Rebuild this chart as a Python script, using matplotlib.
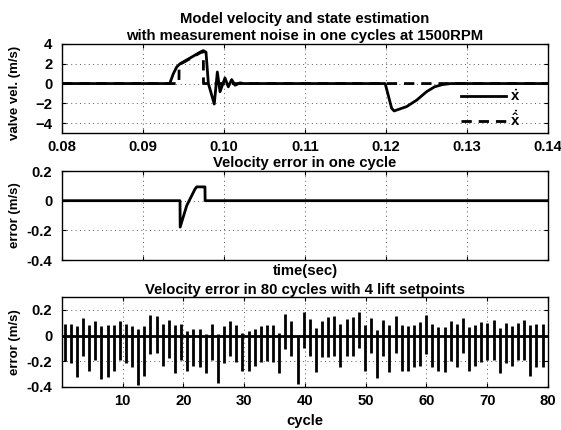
import numpy as np
import matplotlib
matplotlib.use("Agg")
import matplotlib.pyplot as plt

# ---------------- data ----------------
# Top panel: true valve velocity (solid)
t_true = [0.08, 0.0933, 0.09375, 0.09416, 0.09457, 0.0960, 0.09704, 0.09745, 0.09778,
          0.09807, 0.0988, 0.09918, 0.09951, 0.10012, 0.10053, 0.10095, 0.10136,
          0.10198, 0.1024, 0.1030, 0.1199, 0.1207, 0.1210, 0.12255, 0.1238, 0.1250,
          0.1260, 0.1270, 0.1280, 0.14]
v_true = [0.0, 0.0, 1.0, 1.67, 2.0, 2.67, 3.17, 3.33, 3.17,
          0.0, -2.07, 1.17, -0.83, 0.57, -0.33, 0.4, -0.17,
          0.07, 0.0, 0.0, 0.0, -2.5, -2.77, -2.33, -1.67, -0.83,
          -0.33, -0.1, 0.0, 0.0]
# Top panel: estimated velocity (dashed)
t_est = [0.08, 0.09444, 0.09446, 0.0960, 0.09704, 0.09745, 0.09747, 0.14]
v_est = [0.0, 0.0, 1.9, 2.6, 3.1, 3.25, 0.0, 0.0]

# Middle panel: velocity error in one cycle
t_err = [0.08, 0.09457, 0.09459, 0.0954, 0.09642, 0.09663, 0.09745, 0.09765, 0.09767, 0.14]
v_err = [0.0, 0.0, -0.178, -0.033, 0.078, 0.093, 0.093, 0.093, 0.0, 0.0]

# Bottom panel: per-cycle error extremes (79 cycles visible)
cycles = np.arange(1, 80)
err_max = [0.093, 0.093, 0.075, 0.133, 0.08, 0.112, 0.072, 0.08, 0.08, 0.117,
           0.091, 0.072, 0.048, 0.075, 0.16, 0.155, 0.088, 0.12, 0.08, 0.093,
           0.032, 0.053, 0.053, 0.013, 0.093, 0.01, 0.072, 0.112, 0.08, 0.02,
           0.032, 0.053, 0.072, 0.085, 0.08, 0.019, 0.165, 0.112, 0.005, 0.184,
           0.128, 0.061, 0.115, 0.147, 0.155, 0.088, 0.128, 0.141, 0.181, 0.08,
           0.133, 0.04, 0.12, 0.08, 0.155, 0.08, 0.072, 0.08, 0.107, 0.157,
           0.088, 0.067, 0.067, 0.115, 0.093, 0.139, 0.067, 0.085, 0.107, 0.099,
           0.12, 0.061, 0.099, 0.075, 0.099, 0.12, 0.08, 0.088, 0.088]
err_min = [-0.195, -0.213, -0.325, -0.16, -0.272, -0.192, -0.339, -0.325, -0.272, -0.187,
           -0.213, -0.245, -0.385, -0.315, -0.147, -0.139, -0.24, -0.173, -0.288, -0.187,
           -0.272, -0.24, -0.245, -0.293, -0.187, -0.365, -0.213, -0.155, -0.208, -0.272,
           -0.272, -0.24, -0.208, -0.2, -0.208, -0.288, -0.107, -0.155, -0.38, -0.098,
           -0.16, -0.28, -0.168, -0.165, -0.155, -0.245, -0.155, -0.155, -0.099, -0.272,
           -0.139, -0.333, -0.16, -0.28, -0.139, -0.272, -0.272, -0.245, -0.24, -0.142,
           -0.245, -0.272, -0.28, -0.2, -0.245, -0.139, -0.272, -0.24, -0.208, -0.192,
           -0.187, -0.288, -0.213, -0.24, -0.187, -0.187, -0.315, -0.245, -0.245]

top_xticks = [0.08, 0.09, 0.10, 0.11, 0.12, 0.13, 0.14]
top_xticklabels = ["0.08", "0.09", "0.10", "0.11", "0.12", "0.13", "0.14"]
top_yticks = [-4, -2, 0, 2, 4]
mid_yticks = [-0.4, -0.2, 0, 0.2]
mid_yticklabels = ["-0.4", "-0.2", "0", "0.2"]
bot_xticks = [10, 20, 30, 40, 50, 60, 70, 80]
bot_yticks = [-0.4, -0.2, 0, 0.2]

# ---------------- style ----------------
plt.rcParams['font.family'] = ['Liberation Sans', 'DejaVu Sans']
plt.rcParams['font.weight'] = 'bold'
plt.rcParams['mathtext.fontset'] = 'custom'
plt.rcParams['mathtext.rm'] = 'Liberation Sans:bold'
plt.rcParams['mathtext.bf'] = 'Liberation Sans:bold'
plt.rcParams['mathtext.it'] = 'Liberation Sans:bold'

FS = 10.7
LW = 2.0
grid_kw = dict(color='0.35', linestyle=(0, (1, 3.5)), linewidth=0.7)

fig = plt.figure(figsize=(5.61, 4.30), dpi=100)
L, W = 0.1105, 0.8663
ax1 = fig.add_axes([L, 0.6907, W, 0.207])
ax2 = fig.add_axes([L, 0.3953, W, 0.207])
ax3 = fig.add_axes([L, 0.1000, W, 0.2093])

def style(ax):
    ax.tick_params(direction='in', top=True, right=True, length=3, width=0.8,
                   labelsize=FS)
    ax.tick_params(axis='y', pad=7)
    ax.tick_params(axis='x', pad=5)
    for s in ax.spines.values():
        s.set_linewidth(1.0)
    ax.grid(True, **grid_kw)
    ax.set_axisbelow(True)

# Top panel
ax1.plot(t_true, v_true, color='black', lw=LW, label=r'$\dot{\mathbf{x}}$')
ax1.plot(t_est, v_est, color='black', lw=LW, dashes=(3.7, 2.5),
         label=r'$\dot{\hat{\mathbf{x}}}$')
ax1.set_xlim(0.08, 0.14)
ax1.set_ylim(-5, 4)
ax1.set_xticks(top_xticks)
ax1.set_xticklabels(top_xticklabels)
ax1.set_yticks(top_yticks)
style(ax1)
ax1.set_title("Model velocity and state estimation\nwith measurement noise in one cycles at 1500RPM",
              fontsize=FS, fontweight='bold', pad=3, linespacing=1.25)
ax1.set_ylabel("valve vel. (m/s)", fontsize=9.5, fontweight='bold')
ax1.yaxis.set_label_coords(-0.085, 0.45)
leg = ax1.legend(loc='center left', bbox_to_anchor=(0.821, 0.27), frameon=False,
                 handlelength=3.0, handletextpad=0.3, labelspacing=0.35,
                 borderpad=0, borderaxespad=0, fontsize=FS)

# Middle panel
ax2.plot(t_err, v_err, color='black', lw=LW)
ax2.set_xlim(0.08, 0.14)
ax2.set_ylim(-0.4, 0.2)
ax2.set_xticks(top_xticks)
ax2.set_yticks(mid_yticks)
ax2.set_yticklabels(mid_yticklabels)
style(ax2)
ax2.tick_params(labelbottom=False)
ax2.set_title("Velocity error in one cycle", fontsize=FS, fontweight='bold', pad=3)
ax2.set_xlabel("time(sec)", fontsize=FS, fontweight='bold', labelpad=3)
ax2.set_ylabel("error (m/s)", fontsize=9.5, fontweight='bold')
ax2.yaxis.set_label_coords(-0.085, 0.5)

# Bottom panel
pos = 0.45 + (cycles - 1) * 1.0085
ax3.vlines(pos, err_min, err_max, color='black', lw=LW)
ax3.axhline(0, color='black', lw=LW)
ax3.set_xlim(0, 80)
ax3.set_ylim(-0.4, 0.3)
ax3.set_xticks(bot_xticks)
ax3.set_yticks(bot_yticks)
ax3.set_yticklabels(mid_yticklabels)
style(ax3)
ax3.set_title("Velocity error in 80 cycles with 4 lift setpoints", fontsize=FS,
              fontweight='bold', pad=2)
ax3.set_xlabel("cycle", fontsize=FS, fontweight='bold', labelpad=4)
ax3.set_ylabel("error (m/s)", fontsize=9.5, fontweight='bold')
ax3.yaxis.set_label_coords(-0.085, 0.5)

fig.savefig("out.png", dpi=100)
